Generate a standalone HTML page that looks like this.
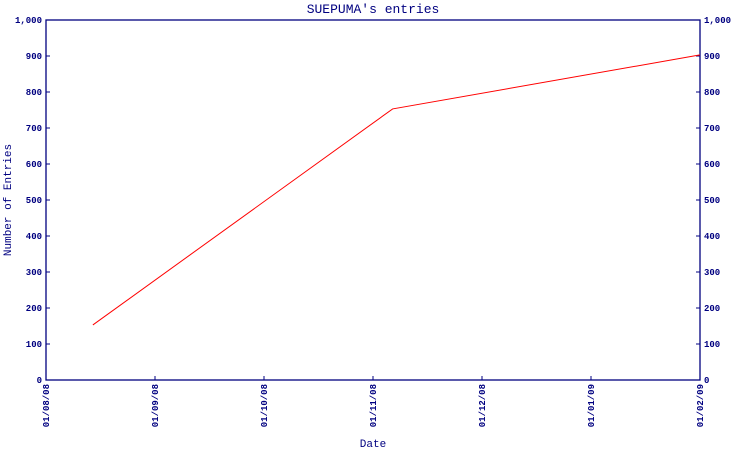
<!DOCTYPE html>
<html><head><meta charset="utf-8"><style>
body{margin:0;background:#fff}
svg text{font-family:"Liberation Mono","DejaVu Sans Mono",monospace;fill:#000080}
</style></head><body>
<svg width="750" height="450" xmlns="http://www.w3.org/2000/svg">
<g id="chart"></g>
</svg>
<script>
const monthLabels=["01/08/08","01/09/08","01/10/08","01/11/08","01/12/08","01/01/09","01/02/09"];
const yTicks=[0,100,200,300,400,500,600,700,800,900,1000];
const yTickLabels=["0","100","200","300","400","500","600","700","800","900","1,000"];
const pointMonths=[0.43,3.18,6.0];
const pointValues=[153,753,903];
const L=46,R=700,T=20,B=380;
const NS="http://www.w3.org/2000/svg";
const g=document.getElementById('chart');
const xs=m=>L+m*(R-L)/(monthLabels.length-1);
const ys=v=>B-v*(B-T)/1000;
function mk(tag,attrs,text){const e=document.createElementNS(NS,tag);for(const k in attrs)e.setAttribute(k,attrs[k]);if(text!==undefined)e.textContent=text;g.appendChild(e);return e;}
let e;
e=mk('text',{x:373,y:13,'text-anchor':'middle','font-size':13},"SUEPUMA's entries");


e=mk('rect',{x:L,y:T,width:R-L,height:B-T,fill:'none',stroke:'#000080','stroke-width':1.3});


yTicks.forEach((v,i)=>{
 const y=ys(v);
 e=mk('line',{x1:L,x2:L+4,y1:y,y2:y,stroke:'#000080'});
 
 
 e=mk('line',{x1:R-4,x2:R,y1:y,y2:y,stroke:'#000080'});
 
 
 e=mk('text',{x:L-4,y:y+3,'text-anchor':'end','font-size':9,'font-weight':'bold'},yTickLabels[i]);
 
 
 e=mk('text',{x:R+4,y:y+3,'text-anchor':'start','font-size':9,'font-weight':'bold'},yTickLabels[i]);
 
 
});
monthLabels.forEach((lab,i)=>{
 const x=xs(i);
 e=mk('line',{x1:x,x2:x,y1:B-4,y2:B,stroke:'#000080'});
 
 
 e=mk('text',{x:0,y:0,'text-anchor':'end','font-size':9,'font-weight':'bold',transform:`translate(${x+3},384) rotate(-90)`},lab);
 
 
});
e=mk('text',{x:0,y:0,'text-anchor':'middle','font-size':11,transform:'translate(11,200) rotate(-90)'},'Number of Entries');


e=mk('text',{x:373,y:447,'text-anchor':'middle','font-size':11},'Date');


const pts=pointMonths.map((m,i)=>xs(m)+','+ys(pointValues[i])).join(' ');
e=mk('polyline',{points:pts,fill:'none',stroke:'#ff0000','stroke-width':1});


</script>
</body></html>
